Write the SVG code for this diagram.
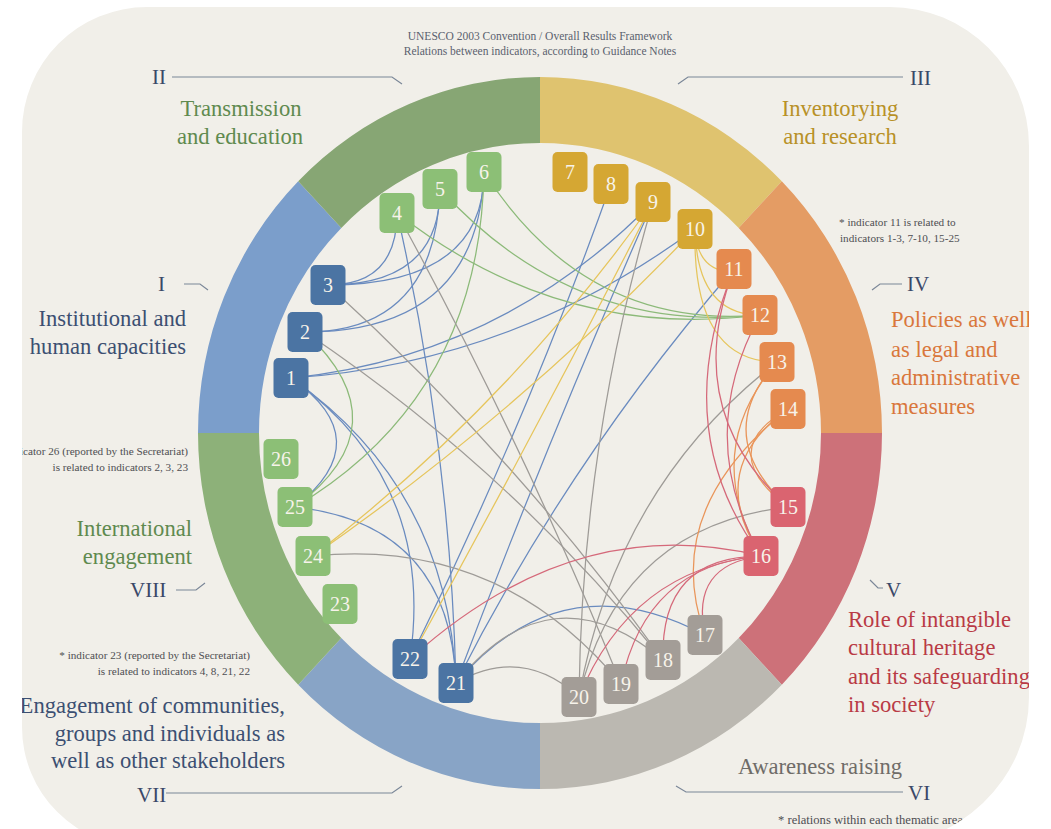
<svg xmlns="http://www.w3.org/2000/svg" width="1051" height="829" viewBox="0 0 1051 829">
<defs>
<clipPath id="paperClip"><path d="M145,7 H890 A139,139 0 0 1 1029,146 V697 A157,150 0 0 1 872,847 H142 A120,120 0 0 1 22,727 V132 A125,125 0 0 1 147,7 Z"/></clipPath>
<style>
.serif{font-family:"Liberation Serif","DejaVu Serif",serif}
.ttl{font-size:11.5px;fill:#5a5f6e;text-anchor:middle}
.rom{font-size:21px;fill:#3a4868}
.cat{font-size:22.6px}
.note{font-size:11.2px;fill:#4e4e52}
.lead{fill:none;stroke:#7b8798;stroke-width:1.2}
.e{fill:none;stroke-width:1.25;stroke-linecap:round}
.eb{stroke:#6a8bbf}.eg{stroke:#8cba79}.ey{stroke:#e6c55c}.eo{stroke:#e9955a}.er{stroke:#d5697a}.ea{stroke:#9e9b97}
.nb{fill:#4b74a3}.ng{fill:#8cbf76}.ny{fill:#d5a733}.no{fill:#e58a4f}.nr{fill:#da6470}.na{fill:#a39d97}
.nt{font-family:"Liberation Serif","DejaVu Serif",serif;font-size:20px;fill:#f7f3ea;text-anchor:middle}
</style>
</defs>
<rect width="1051" height="829" fill="#ffffff"/>
<g clip-path="url(#paperClip)">
<rect width="1051" height="850" fill="#f1efe9"/>
<g id="ring">
<path d="M540,77 A342,356 0 0 1 781.8,181.3 L738.7,227.9 A281,290 0 0 0 540,143 Z" fill="#dfc36f"/>
<path d="M781.8,181.3 A342,356 0 0 1 882,433 L821,433 A281,290 0 0 0 738.7,227.9 Z" fill="#e49c64"/>
<path d="M882,433 A342,356 0 0 1 781.8,684.7 L738.7,638.1 A281,290 0 0 0 821,433 Z" fill="#cd7179"/>
<path d="M781.8,684.7 A342,356 0 0 1 540,789 L540,723 A281,290 0 0 0 738.7,638.1 Z" fill="#bbb8b1"/>
<path d="M540,789 A342,356 0 0 1 298.2,684.7 L341.3,638.1 A281,290 0 0 0 540,723 Z" fill="#88a4c6"/>
<path d="M298.2,684.7 A342,356 0 0 1 198,433 L259,433 A281,290 0 0 0 341.3,638.1 Z" fill="#8db179"/>
<path d="M198,433 A342,356 0 0 1 298.2,181.3 L341.3,227.9 A281,290 0 0 0 259,433 Z" fill="#7b9ecb"/>
<path d="M298.2,181.3 A342,356 0 0 1 540,77 L540,143 A281,290 0 0 0 341.3,227.9 Z" fill="#87a674"/>
</g>
<g id="labels" class="serif">
<text class="ttl" x="540" y="40">UNESCO 2003 Convention / Overall Results Framework</text>
<text class="ttl" x="540" y="55">Relations between indicators, according to Guidance Notes</text>
<text class="rom" x="152" y="84">II</text>
<path class="lead" d="M172,77 H392 L402,84"/>
<text class="rom" x="910" y="85">III</text>
<path class="lead" d="M678,84 L688,77 H903"/>
<text class="rom" x="158" y="291">I</text>
<path class="lead" d="M184,284 H200 L208,290"/>
<text class="rom" x="907" y="291">IV</text>
<path class="lead" d="M872,290 L880,284 H902"/>
<text class="rom" x="886" y="597">V</text>
<path class="lead" d="M870,580 L878,588 H883"/>
<text class="rom" x="908" y="800">VI</text>
<path class="lead" d="M676,786 L686,792 H903"/>
<text class="rom" x="137" y="802">VII</text>
<path class="lead" d="M166,793 H392 L402,786"/>
<text class="rom" x="130" y="597">VIII</text>
<path class="lead" d="M176,590 H196 L205,583"/>
<text class="cat" x="241" y="116" fill="#5f8a4f" text-anchor="middle">Transmission</text>
<text class="cat" x="240" y="144" fill="#5f8a4f" text-anchor="middle">and education</text>
<text class="cat" x="840" y="116" fill="#b89127" text-anchor="middle">Inventorying</text>
<text class="cat" x="840" y="144" fill="#b89127" text-anchor="middle">and research</text>
<text class="cat" x="186" y="326" fill="#3c4f72" text-anchor="end">Institutional and</text>
<text class="cat" x="186" y="354" fill="#3c4f72" text-anchor="end">human capacities</text>
<text class="cat" x="891" y="327" fill="#d9773c">Policies as well</text>
<text class="cat" x="891" y="357" fill="#d9773c">as legal and</text>
<text class="cat" x="891" y="385" fill="#d9773c">administrative</text>
<text class="cat" x="891" y="414" fill="#d9773c">measures</text>
<text class="cat" x="848" y="627" fill="#b93a45">Role of intangible</text>
<text class="cat" x="848" y="655" fill="#b93a45">cultural heritage</text>
<text class="cat" x="848" y="684" fill="#b93a45">and its safeguarding</text>
<text class="cat" x="848" y="712" fill="#b93a45">in society</text>
<text class="cat" x="192" y="536" fill="#5f8a4f" text-anchor="end">International</text>
<text class="cat" x="192" y="564" fill="#5f8a4f" text-anchor="end">engagement</text>
<text class="cat" x="285" y="713" fill="#3c4f72" text-anchor="end">Engagement of communities,</text>
<text class="cat" x="285" y="741" fill="#3c4f72" text-anchor="end">groups and individuals as</text>
<text class="cat" x="285" y="768" fill="#3c4f72" text-anchor="end">well as other stakeholders</text>
<text class="cat" x="820" y="774" fill="#6f6c68" text-anchor="middle">Awareness raising</text>
<text class="note" x="839" y="226">*  indicator 11 is related to</text>
<text class="note" x="840" y="242">indicators 1-3, 7-10, 15-25</text>
<text class="note" x="188" y="455" text-anchor="end">icator 26 (reported by the Secretariat)</text>
<text class="note" x="188" y="471" text-anchor="end">is related to indicators 2, 3, 23</text>
<text class="note" x="250" y="659" text-anchor="end">*  indicator 23 (reported by the Secretariat)</text>
<text class="note" x="250" y="675" text-anchor="end">is related to indicators 4, 8, 21, 22</text>
<text class="note" x="778" y="824" style="font-size:12.6px">*  relations within each thematic area</text>
</g>
<g id="connectors">
<path class="e eb" d="M328,285 Q397,285 397,213"/>
<path class="e eb" d="M328,285 Q440,285 440,189"/>
<path class="e eb" d="M328,285 Q484,285 484,172"/>
<path class="e eb" d="M305,332 Q435,332 440,189"/>
<path class="e eb" d="M305,332 Q478,332 484,172"/>
<path class="e eb" d="M291,378 Q503,356 653,202"/>
<path class="e eb" d="M291,378 Q514,363 695,229"/>
<path class="e eb" d="M291,378 Q380,440 295,507"/>
<path class="e eb" d="M291,378 Q448,488 456,683"/>
<path class="e eb" d="M291,378 Q436,481 410,659"/>
<path class="e eb" d="M397,213 Q450,445 456,683"/>
<path class="e eb" d="M611,184 Q524,428 410,659"/>
<path class="e eb" d="M653,202 Q548,440 456,683"/>
<path class="e eb" d="M734,269 Q570,458 456,683"/>
<path class="e eb" d="M705,635 Q562,559 456,683"/>
<path class="e eb" d="M295,507 Q450,524 456,683"/>
<path class="e eg" d="M397,213 Q561,341 760,315"/>
<path class="e eg" d="M440,189 Q573,335 760,315"/>
<path class="e eg" d="M484,172 Q585,330 760,315"/>
<path class="e eg" d="M484,172 Q480,397 295,507"/>
<path class="e eg" d="M305,332 Q405,425 295,507"/>
<path class="e ea" d="M328,285 Q516,456 663,660"/>
<path class="e ea" d="M305,332 Q509,469 663,660"/>
<path class="e ea" d="M397,213 Q523,443 621,684"/>
<path class="e ea" d="M313,556 Q500,537 621,684"/>
<path class="e ea" d="M456,683 Q551,566 663,660"/>
<path class="e ea" d="M456,683 Q522,645 579,697"/>
<path class="e ea" d="M653,202 Q582,443 579,697"/>
<path class="e ea" d="M777,362 Q616,487 579,697"/>
<path class="e ea" d="M788,507 Q619,527 579,697"/>
<path class="e ey" d="M695,229 Q697,272 734,272"/>
<path class="e ey" d="M695,229 Q697,315 760,315"/>
<path class="e ey" d="M695,229 Q692,362 777,362"/>
<path class="e ey" d="M653,202 Q509,405 313,556"/>
<path class="e ey" d="M695,229 Q520,412 313,556"/>
<path class="e ey" d="M653,202 Q535,433 410,659"/>
<path class="e eo" d="M777,362 Q710,435 788,507"/>
<path class="e eo" d="M777,362 Q700,452 761,556"/>
<path class="e eo" d="M788,409 Q714,451 788,507"/>
<path class="e eo" d="M788,409 Q704,469 761,556"/>
<path class="e eo" d="M788,409 Q660,510 705,635"/>
<path class="e er" d="M734,269 Q680,410 788,507"/>
<path class="e er" d="M734,269 Q668,430 761,556"/>
<path class="e er" d="M760,315 Q694,436 761,556"/>
<path class="e er" d="M761,556 Q690,565 705,635"/>
<path class="e er" d="M761,556 Q660,556 663,660"/>
<path class="e er" d="M761,556 Q646,565 621,684"/>
<path class="e er" d="M761,556 Q631,569 579,697"/>
<path class="e er" d="M761,556 Q575,510 410,659"/>
</g>
<g id="n1"><rect class="nb" x="273.5" y="358" width="35" height="40" rx="5"/><text class="nt" x="291" y="385">1</text></g>
<g id="n2"><rect class="nb" x="287.5" y="312" width="35" height="40" rx="5"/><text class="nt" x="305" y="339">2</text></g>
<g id="n3"><rect class="nb" x="310.5" y="265" width="35" height="40" rx="5"/><text class="nt" x="328" y="292">3</text></g>
<g id="n4"><rect class="ng" x="379.5" y="193" width="35" height="40" rx="5"/><text class="nt" x="397" y="220">4</text></g>
<g id="n5"><rect class="ng" x="422.5" y="169" width="35" height="40" rx="5"/><text class="nt" x="440" y="196">5</text></g>
<g id="n6"><rect class="ng" x="466.5" y="152" width="35" height="40" rx="5"/><text class="nt" x="484" y="179">6</text></g>
<g id="n7"><rect class="ny" x="552.5" y="152" width="35" height="40" rx="5"/><text class="nt" x="570" y="179">7</text></g>
<g id="n8"><rect class="ny" x="593.5" y="164" width="35" height="40" rx="5"/><text class="nt" x="611" y="191">8</text></g>
<g id="n9"><rect class="ny" x="635.5" y="182" width="35" height="40" rx="5"/><text class="nt" x="653" y="209">9</text></g>
<g id="n10"><rect class="ny" x="677.5" y="209" width="35" height="40" rx="5"/><text class="nt" x="695" y="236">10</text></g>
<g id="n11"><rect class="no" x="716.5" y="249" width="35" height="40" rx="5"/><text class="nt" x="734" y="276">11</text></g>
<g id="n12"><rect class="no" x="742.5" y="295" width="35" height="40" rx="5"/><text class="nt" x="760" y="322">12</text></g>
<g id="n13"><rect class="no" x="759.5" y="342" width="35" height="40" rx="5"/><text class="nt" x="777" y="369">13</text></g>
<g id="n14"><rect class="no" x="770.5" y="389" width="35" height="40" rx="5"/><text class="nt" x="788" y="416">14</text></g>
<g id="n15"><rect class="nr" x="770.5" y="487" width="35" height="40" rx="5"/><text class="nt" x="788" y="514">15</text></g>
<g id="n16"><rect class="nr" x="743.5" y="536" width="35" height="40" rx="5"/><text class="nt" x="761" y="563">16</text></g>
<g id="n17"><rect class="na" x="687.5" y="615" width="35" height="40" rx="5"/><text class="nt" x="705" y="642">17</text></g>
<g id="n18"><rect class="na" x="645.5" y="640" width="35" height="40" rx="5"/><text class="nt" x="663" y="667">18</text></g>
<g id="n19"><rect class="na" x="603.5" y="664" width="35" height="40" rx="5"/><text class="nt" x="621" y="691">19</text></g>
<g id="n20"><rect class="na" x="561.5" y="677" width="35" height="40" rx="5"/><text class="nt" x="579" y="704">20</text></g>
<g id="n21"><rect class="nb" x="438.5" y="663" width="35" height="40" rx="5"/><text class="nt" x="456" y="690">21</text></g>
<g id="n22"><rect class="nb" x="392.5" y="639" width="35" height="40" rx="5"/><text class="nt" x="410" y="666">22</text></g>
<g id="n23"><rect class="ng" x="322.5" y="584" width="35" height="40" rx="5"/><text class="nt" x="340" y="611">23</text></g>
<g id="n24"><rect class="ng" x="295.5" y="536" width="35" height="40" rx="5"/><text class="nt" x="313" y="563">24</text></g>
<g id="n25"><rect class="ng" x="277.5" y="487" width="35" height="40" rx="5"/><text class="nt" x="295" y="514">25</text></g>
<g id="n26"><rect class="ng" x="263.5" y="439" width="35" height="40" rx="5"/><text class="nt" x="281" y="466">26</text></g>
</g>
</svg>
